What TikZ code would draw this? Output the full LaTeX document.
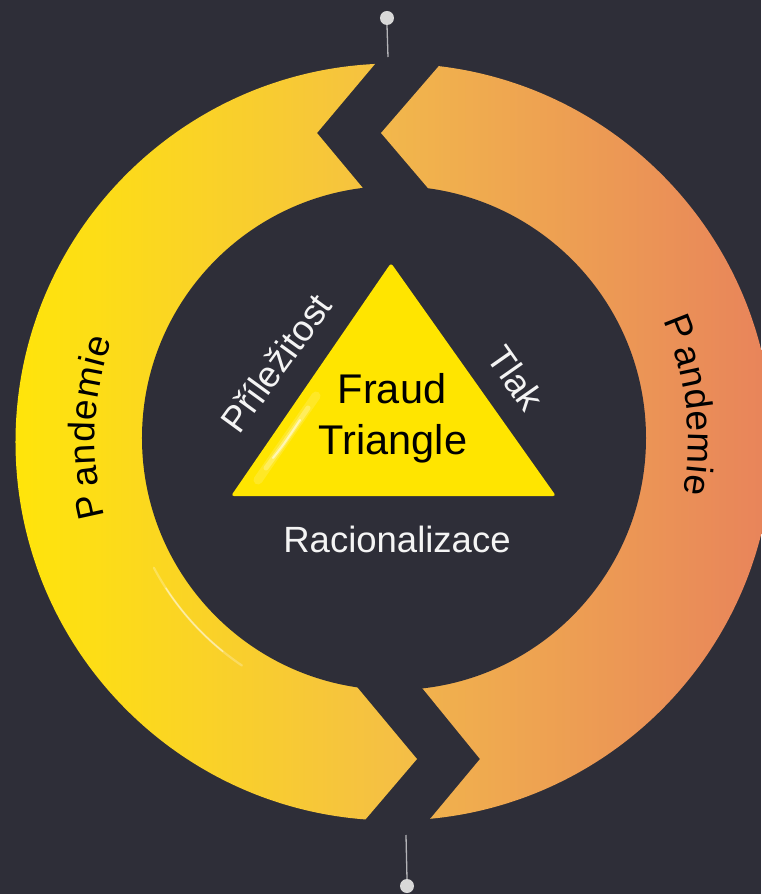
\documentclass[tikz,border=0pt]{standalone}
\usepackage{fontspec}
\setmainfont{Liberation Sans}
\definecolor{bg}{HTML}{2E2E38}
\definecolor{yelA}{HTML}{FFE50A}
\definecolor{yelM}{HTML}{FCD826}
\definecolor{yelB}{HTML}{F4BD48}
\definecolor{orA}{HTML}{F2B84B}
\definecolor{orM}{HTML}{EEA253}
\definecolor{orB}{HTML}{E8835B}
\definecolor{tri}{HTML}{FFE500}
\definecolor{pin}{HTML}{D8D8D8}
\definecolor{pinline}{HTML}{B4B4B8}
\definecolor{lbl}{HTML}{F4F4F4}
\tikzset{
  pand/.style={anchor=base, inner sep=0pt, text=black, font=\fontsize{37}{40}\selectfont},
  lab/.style={inner sep=0pt, text=lbl, font=\fontsize{36.5}{40}\selectfont},
  big/.style={anchor=base, inner sep=0pt, text=black, font=\fontsize{41.5}{48}\selectfont},
  pinhead/.style={circle, fill=pin, minimum size=14pt, inner sep=0pt},
  pinstem/.style={draw=pinline, line width=1.3pt},
  gloss/.style={white, line cap=round}
}
\begin{document}
\begin{tikzpicture}[x=1pt,y=1pt]
\useasboundingbox[fill=bg] (-394,-454) rectangle (367,440);
% yellow piece
\begin{scope}
  \clip (0,-2) circle (378.5);
  \clip (10,540) -- (10,410) -- (-19,376) -- (-77,307) -- (-32,253) -- (-10,226)
        -- (-67,-211) -- (-37,-247) -- (23,-319) -- (-29,-380) -- (-55,-410)
        -- (-494,-510) -- (-494,540) -- cycle;
  \shade[left color=yelA, middle color=yelM, right color=yelB] (-380,-400) rectangle (25,400);
\end{scope}
% orange piece
\begin{scope}
  \clip (0,-2) circle (378.5);
  \clip (72,540) -- (72,406) -- (44,373) -- (-13,307) -- (33,253) -- (56,226)
        -- (0.5,-214) -- (29,-249) -- (86,-319) -- (36,-379) -- (11,-409)
        -- (506,-510) -- (506,540) -- cycle;
  \shade[left color=orA, middle color=orM, right color=orB] (-15,-400) rectangle (380,400);
\end{scope}
% hole
\fill[bg] (0,2) circle (252);
% gloss on ring
\draw[gloss, opacity=0.25, line width=2.2pt] (208:272) arc[start angle=208, end angle=236, radius=272];
\draw[gloss, opacity=0.45, line width=1.4pt] (213:272) arc[start angle=213, end angle=231, radius=272];
% triangle
\fill[tri, rounded corners=3pt] (-3,177) -- (162,-56) -- (-163,-56) -- cycle;
\draw[gloss, opacity=0.15, line width=9pt] (-136,-40) .. controls (-114,-8) .. (-78,44);
\draw[gloss, opacity=0.25, line width=5pt] (-128,-28) .. controls (-112,-6) .. (-86,32);
\draw[gloss, opacity=0.55, line width=2pt] (-121,-18) .. controls (-110,-4) .. (-94,20);
\node[big] (fraud) at (-2,36) {Fraud};
\node[big] (triangle) at (-1,-15) {Triangle};
\node[lab, anchor=base] (racio) at (3,-112) {Racionalizace};
\node[lab, rotate=54] (prilez) at (-118,77) {Příležitost};
\node[lab, rotate=-55] (tlak) at (122,62) {Tlak};
% Pandemie left
\foreach \ch/\a [count=\i] in {P/192.4, a/186.8, n/182.7, d/178.5, e/174.4, m/169.3, i/165.4, e/162.4}
  \node[pand, rotate=\a-90] (pl\i) at (\a:299) {\ch};
% Pandemie right
\foreach \ch/\a [count=\i] in {P/21.5, a/15.9, n/11.8, d/7.6, e/3.5, m/-1.6, i/-5.5, e/-8.5}
  \node[pand, rotate=\a-90] (pr\i) at (\a:294) {\ch};
% pins
\node[pinhead] (pintop) at (-7,422) {};
\coordinate (pintopend) at (-6,383);
\draw[pinstem] (pintop.south) -- (pintopend);
\node[pinhead] (pinbot) at (13,-446) {};
\coordinate (pinbotend) at (12,-395);
\draw[pinstem] (pinbot.north) -- (pinbotend);
\end{tikzpicture}
\end{document}
